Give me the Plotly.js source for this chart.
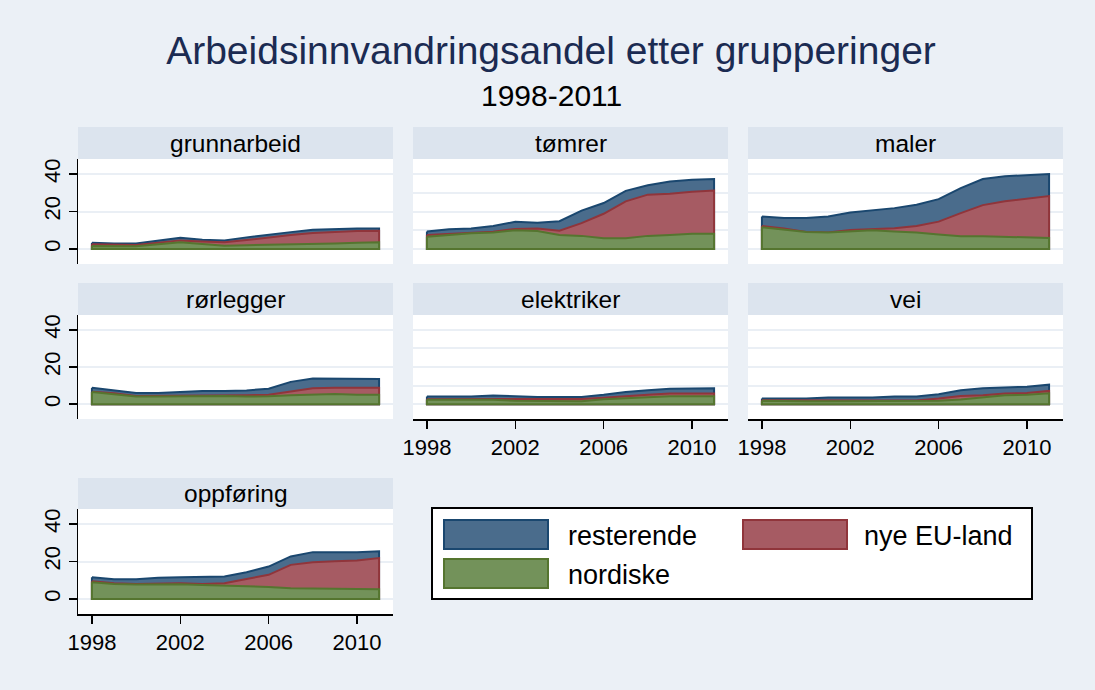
<!DOCTYPE html>
<html>
<head>
<meta charset="utf-8">
<script src="https://cdn.plot.ly/plotly-3.0.1.min.js"></script>
<style>html,body{margin:0;padding:0;background:#ebf0f6;}#chart{width:1095px;height:690px;}</style>
</head>
<body>
<div id="chart"></div>
<script>
const years = [1998,1999,2000,2001,2002,2003,2004,2005,2006,2007,2008,2009,2010,2011];
const panelNames = ['grunnarbeid','tømrer','maler','rørlegger','elektriker','vei','oppføring'];
const seriesNames = ['resterende','nye EU-land','nordiske'];
const yTicks = [0,20,40];
const xTicks = [1998,2002,2006,2010];

// nordiske / nye EU-land / resterende, per gruppe (prosent)
const grunnarbeid_nordiske = [1.6,1.5,1.5,2.5,3.6,2.7,1.7,2.0,2.2,2.3,2.8,3.0,3.3,3.6];
const grunnarbeid_nyeEU    = [0.9,0.7,0.7,0.9,1.0,1.3,1.9,2.8,4.0,5.2,5.7,6.2,6.3,6.1];
const grunnarbeid_rest     = [0.9,0.7,0.7,1.2,1.4,1.0,1.0,1.4,1.5,1.5,1.8,1.5,1.4,1.3];

const tomrer_nordiske = [6.6,7.5,8.4,8.8,10.0,9.6,7.5,7.0,5.7,5.7,7.0,7.5,8.2,8.2];
const tomrer_nyeEU    = [0.9,0.5,0.4,0.4,0.7,1.3,2.3,6.8,13.1,19.7,22.0,22.0,22.3,23.0];
const tomrer_rest     = [1.8,2.5,2.2,3.1,3.8,3.1,5.0,6.7,5.7,5.6,5.0,6.5,6.5,6.1];

const maler_nordiske = [11.6,10.5,9.1,8.75,9.5,10.0,9.3,8.75,7.7,6.8,6.8,6.4,6.1,5.9];
const maler_nyeEU    = [0.7,0.4,0.0,0.0,0.7,0.7,1.8,3.55,6.9,12.3,16.6,19.1,20.9,22.3];
const maler_rest     = [5.0,5.7,7.5,8.55,9.3,9.8,10.7,11.3,12.0,13.4,13.9,13.3,12.6,11.8];

const rorlegger_nordiske = [6.5,5.3,4.1,4.1,4.2,4.4,4.4,4.1,4.2,4.8,5.1,5.5,5.0,5.0];
const rorlegger_nyeEU    = [0.2,0.5,0.3,0.3,0.2,0.4,0.4,0.7,0.9,1.9,3.4,3.3,3.8,3.8];
const rorlegger_rest     = [2.1,1.6,1.6,1.6,2.1,2.3,2.3,2.6,3.2,5.3,5.3,4.8,4.7,4.7];

const elektriker_nordiske = [2.3,2.3,2.3,2.3,1.8,1.6,1.6,1.6,2.6,3.2,3.8,4.3,4.3,4.3];
const elektriker_nyeEU    = [0.4,0.4,0.4,0.5,1.0,1.2,1.2,1.2,0.9,1.2,1.2,1.4,1.4,1.4];
const elektriker_rest     = [1.4,1.4,1.4,1.8,1.3,1.1,1.1,1.1,1.5,2.1,2.5,2.6,2.7,2.8];

const vei_nordiske = [1.8,1.5,1.5,1.5,1.5,1.5,1.4,1.4,1.8,2.5,3.6,4.8,5.1,5.8];
const vei_nyeEU    = [0.3,0.5,0.5,0.5,0.4,0.4,0.5,0.5,1.2,1.9,1.2,0.9,0.9,1.3];
const vei_rest     = [0.9,1.0,1.0,1.6,1.7,1.7,2.2,2.2,2.3,3.1,3.7,3.3,3.4,3.4];

const oppforing_nordiske = [8.9,8.0,7.7,8.0,7.9,7.5,7.1,7.1,6.4,5.7,5.7,5.7,5.4,5.2];
const oppforing_nyeEU    = [0.6,0.4,0.3,0.4,0.5,0.5,1.3,3.6,6.5,12.5,13.9,14.5,15.1,16.6];
const oppforing_rest     = [2.1,2.1,2.5,3.0,3.2,3.6,3.6,3.6,4.4,4.5,5.4,4.8,4.5,3.7];

const panelData = [
  [grunnarbeid_nordiske, grunnarbeid_nyeEU, grunnarbeid_rest],
  [tomrer_nordiske, tomrer_nyeEU, tomrer_rest],
  [maler_nordiske, maler_nyeEU, maler_rest],
  [rorlegger_nordiske, rorlegger_nyeEU, rorlegger_rest],
  [elektriker_nordiske, elektriker_nyeEU, elektriker_rest],
  [vei_nordiske, vei_nyeEU, vei_rest],
  [oppforing_nordiske, oppforing_nyeEU, oppforing_rest]
];

const W = 1095, H = 690;
const px = v => v / W;
const py = v => 1 - v / H;
const colX = [[78,393],[413,728],[748,1063]];
const rowY = [[159,264],[315,419],[509,614]];
const headY = [[127,159],[283,315],[478,509]];

const fillCols = {res:'#4a6c8c', eu:'#a65b63', nor:'#73925a'};
const lineCols = {res:'#1a476f', eu:'#90353b', nor:'#55752f'};
const font = 'Liberation Sans, Arial, sans-serif';

const traces = [];
const layout = {
  width: W, height: H,
  margin: {l:0, r:0, t:0, b:0, pad:0},
  paper_bgcolor: '#ebf0f6',
  plot_bgcolor: '#ffffff',
  showlegend: false,
  font: {family: font, color: '#000'},
  title: {text: 'Arbeidsinnvandringsandel etter grupperinger', x: 551/W, xanchor: 'center',
          y: 1 - 50/H, yanchor: 'middle', yref: 'paper', font: {size: 39, color: '#1b2b52', family: font}},
  shapes: [], annotations: []
};

panelNames.forEach((name, i) => {
  const r = Math.floor(i / 3), c = i % 3;
  const sfx = i === 0 ? '' : String(i + 1);
  const xa = 'x' + sfx, ya = 'y' + sfx;
  const [nor, eu, res] = panelData[i];
  const t1 = nor.slice();
  const t2 = nor.map((v, k) => v + eu[k]);
  const t3 = t2.map((v, k) => v + res[k]);
  const n = years.length;
  const polyX = years.concat([years[n-1], years[0], years[0]]);
  const poly = tops => tops.concat([0, 0, tops[0]]);
  [[t3,'res',seriesNames[0]],[t2,'eu',seriesNames[1]],[t1,'nor',seriesNames[2]]].forEach(([tops,key,label]) => {
    traces.push({
      type: 'scatter', mode: 'lines', x: polyX, y: poly(tops), fill: 'toself',
      fillcolor: fillCols[key], line: {color: lineCols[key], width: 2},
      xaxis: xa, yaxis: ya, name: label, hoverinfo: 'skip'
    });
  });
  const showX = (i >= 4);
  const showY = (c === 0);
  layout['xaxis' + sfx] = {
    domain: [px(colX[c][0]), px(colX[c][1])], anchor: ya,
    range: [1997.37, 2011.63], showgrid: false, zeroline: false,
    showline: showX, linecolor: '#000', linewidth: 1.5,
    ticks: showX ? 'outside' : '', ticklen: 8, tickwidth: 1.5, tickcolor: '#000',
    tickvals: xTicks, showticklabels: showX, tickfont: {size: 22, family: font, color: '#000'},
    fixedrange: true
  };
  layout['yaxis' + sfx] = {
    domain: [py(rowY[r][1]), py(rowY[r][0])], anchor: xa,
    range: [-8, 48], zeroline: false, showgrid: true,
    gridcolor: '#eaeff5', gridwidth: 2,
    tickvals: showY ? yTicks : [0,10,20,30,40],
    showline: showY, linecolor: '#000', linewidth: 1.5,
    ticks: showY ? 'outside' : '', ticklen: 8, tickwidth: 1.5, tickcolor: '#000',
    showticklabels: showY, tickangle: -90, tickfont: {size: 22, family: font, color: '#000'},
    fixedrange: true
  };
  layout.shapes.push({type:'rect', xref:'paper', yref:'paper',
    x0: px(colX[c][0]), x1: px(colX[c][1]), y0: py(headY[r][1]), y1: py(headY[r][0]),
    fillcolor: '#dce4ee', line: {width: 0}, layer: 'below'});
  layout.annotations.push({xref:'paper', yref:'paper', x: px((colX[c][0]+colX[c][1])/2),
    y: py((headY[r][0]+headY[r][1])/2), text: name, showarrow: false, xanchor:'center', yanchor:'middle',
    font: {size: 24.5, family: font, color: '#000'}});
});

// subtitle
layout.annotations.push({xref:'paper', yref:'paper', x: 551/W, y: py(96), text: '1998-2011', showarrow:false,
  xanchor:'center', yanchor:'middle', font:{size: 30, family: font, color:'#000'}});

// legend box
layout.shapes.push({type:'rect', xref:'paper', yref:'paper', x0: px(432), x1: px(1032), y0: py(599), y1: py(508),
  fillcolor:'#ffffff', line:{color:'#000', width:2}});
const legItems = [
  {key:'res', label: seriesNames[0], sx:[444,548], sy:[520,549], tx:566},
  {key:'eu', label: seriesNames[1], sx:[743,847], sy:[520,549], tx:862},
  {key:'nor', label: seriesNames[2], sx:[444,548], sy:[559,588], tx:566}
];
legItems.forEach(it => {
  layout.shapes.push({type:'rect', xref:'paper', yref:'paper', x0: px(it.sx[0]), x1: px(it.sx[1]),
    y0: py(it.sy[1]), y1: py(it.sy[0]), fillcolor: fillCols[it.key], line:{color: lineCols[it.key], width: 2}});
  layout.annotations.push({xref:'paper', yref:'paper', x: px(it.tx), y: py((it.sy[0]+it.sy[1])/2 + 1),
    text: it.label, showarrow:false, xanchor:'left', yanchor:'middle', font:{size: 27, family: font, color:'#000'}});
});

Plotly.newPlot('chart', traces, layout, {displayModeBar: false, staticPlot: true});
</script>
</body>
</html>
